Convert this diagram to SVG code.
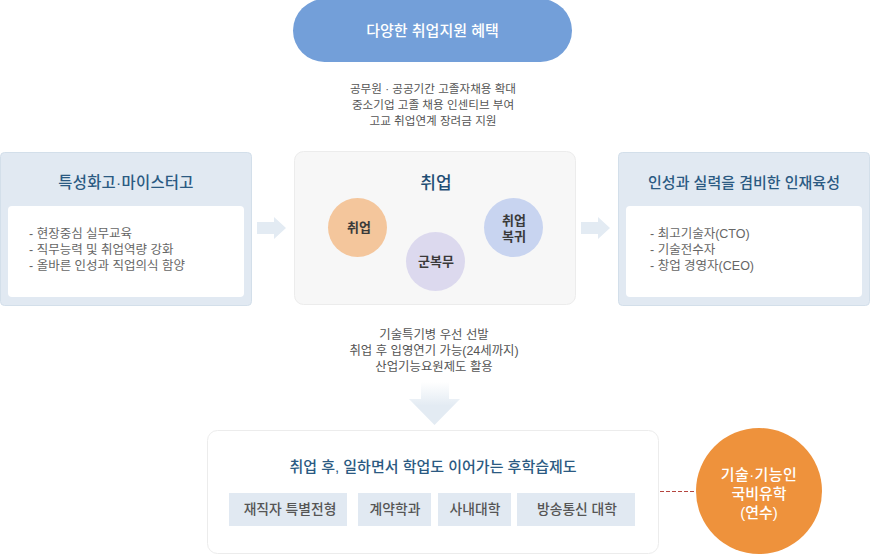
<svg xmlns="http://www.w3.org/2000/svg" width="870" height="557" viewBox="0 0 870 557">
<style>
text{font-family:"Liberation Sans","Noto Sans CJK KR",sans-serif;text-anchor:middle}
.sm{font-size:11.6px;fill:#555}
.sm2{font-size:12.4px;fill:#555}
.li{font-size:12.5px;fill:#666;text-anchor:start}
.h{font-size:15px;font-weight:500;fill:#2b5a82}
.c{font-size:13px;font-weight:700;fill:#3a3a3a}
.t{font-size:13.8px;font-weight:500;fill:#555}
.w{font-size:15px;font-weight:500;fill:#fff}
.panel{fill:#e1e9f2;stroke:#d3dfea}
.inner{fill:#fff}
.ar{fill:#e3ebf3}
.tag{fill:#e1e9f2}
</style>
<defs><linearGradient id="dg" x1="0" y1="0" x2="0" y2="1"><stop offset="0" stop-color="#fff"/><stop offset="0.55" stop-color="#e3ebf3"/></linearGradient></defs>
<g id="top"><rect x="293" y="-1" width="279" height="63" rx="31.5" fill="#739fd9"/><text class="w" x="432.500" y="36">다양한 취업지원 혜택</text></g>
<g id="top-notes"><text class="sm" x="433" y="92.500">공무원 · 공공기간 고졸자채용 확대</text><text class="sm" x="433" y="108.500">중소기업 고졸 채용 인센티브 부여</text><text class="sm" x="433" y="124.500">고교 취업연계 장려금 지원</text></g>
<g id="left"><rect class="panel" x="0.500" y="152.500" width="251" height="153" rx="4"/><rect class="inner" x="8" y="206" width="236" height="91" rx="4"/><text class="h" x="126" y="188" style="font-size:15.4px;letter-spacing:.3px">특성화고·마이스터고</text><text class="li" x="29" y="238">- 현장중심 실무교육</text><text class="li" x="29" y="254">- 직무능력 및 취업역량 강화</text><text class="li" x="29" y="270">- 올바른 인성과 직업의식 함양</text></g>
<g id="center"><rect x="294.500" y="151.500" width="281" height="153" rx="9" fill="#f7f7f7" stroke="#ececec"/><text x="436" y="189" font-size="17" font-weight="500" fill="#1f4e74">취업</text>
<circle cx="357.500" cy="227.500" r="29.500" fill="#f4c69c"/><text class="c" x="359" y="232">취업</text>
<circle cx="435.500" cy="261.500" r="29.500" fill="#dcd9ee"/><text class="c" x="436" y="266">군복무</text>
<circle cx="513.500" cy="227.500" r="29.500" fill="#c8d4f0"/><text class="c" x="514" y="225">취업</text><text class="c" x="514" y="241">복귀</text></g>
<g id="right"><rect class="panel" x="618.500" y="152.500" width="251" height="153" rx="4"/><rect class="inner" x="626" y="206" width="236" height="91" rx="4"/><text class="h" x="744" y="188">인성과 실력을 겸비한 인재육성</text><text class="li" x="650" y="238">- 최고기술자(CTO)</text><text class="li" x="650" y="254">- 기술전수자</text><text class="li" x="650" y="270">- 창업 경영자(CEO)</text></g>
<g id="mid-notes"><text class="sm2" x="434" y="339">기술특기병 우선 선발</text><text class="sm2" x="434" y="355">취업 후 입영연기 가능(24세까지)</text><text class="sm2" x="434" y="371">산업기능요원제도 활용</text></g>
<g id="bottom"><rect x="207.500" y="430.500" width="451" height="123" rx="10" fill="#fff" stroke="#ececec"/><text class="h" x="433" y="472">취업 후, 일하면서 학업도 이어가는 후학습제도</text>
<rect class="tag" x="229" y="493" width="118" height="33"/><text class="t" x="290" y="514">재직자 특별전형</text>
<rect class="tag" x="358" y="493" width="73" height="33"/><text class="t" x="395" y="514">계약학과</text>
<rect class="tag" x="438" y="493" width="73" height="33"/><text class="t" x="475" y="514">사내대학</text>
<rect class="tag" x="517" y="493" width="118" height="33"/><text class="t" x="577" y="514">방송통신 대학</text></g>
<g id="overseas"><circle cx="759" cy="491" r="63" fill="#ee923c"/><text class="w" x="759" y="480" style="letter-spacing:.4px">기술·기능인</text><text class="w" x="759" y="499">국비유학</text><text class="w" x="759" y="518">(연수)</text></g>
<g id="connectors"><polygon class="ar" points="257,222 274,222 274,217 286,228 274,239 274,234 257,234"/><polygon class="ar" points="581,222 598,222 598,217 610,228 598,239 598,234 581,234"/><polygon fill="url(#dg)" points="421,382 449,382 449,399 460,399 434.500,425 409,399 421,399"/><line x1="660" y1="491.500" x2="695" y2="491.500" stroke="#b5453f" stroke-dasharray="4 2"/></g>
</svg>
